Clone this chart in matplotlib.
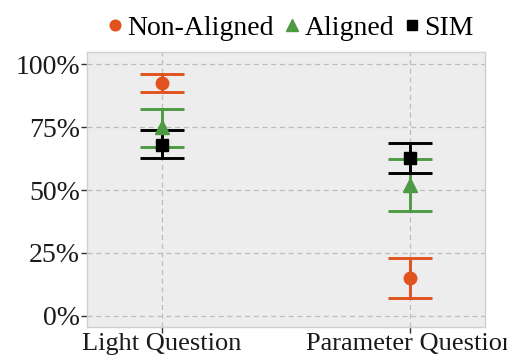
import matplotlib
matplotlib.use("Agg")
import matplotlib.pyplot as plt
from matplotlib.lines import Line2D

categories = ["Light Question", "Parameter Question"]
series = ["Non-Aligned", "Aligned", "SIM"]
mean = {"Non-Aligned": [0.926, 0.150], "Aligned": [0.750, 0.520], "SIM": [0.680, 0.628]}
lower = {"Non-Aligned": [0.888, 0.071], "Aligned": [0.670, 0.417], "SIM": [0.627, 0.569]}
upper = {"Non-Aligned": [0.960, 0.231], "Aligned": [0.820, 0.622], "SIM": [0.740, 0.686]}
yticks = [0, 0.25, 0.5, 0.75, 1.0]
ytick_labels = ["0%", "25%", "50%", "75%", "100%"]

colors = {"Non-Aligned": "#E0531E", "Aligned": "#4E9A44", "SIM": "#000000"}
markers = {"Non-Aligned": "o", "Aligned": "^", "SIM": "s"}
msizes = {"Non-Aligned": 9, "Aligned": 10, "SIM": 8.5}

plt.rcParams["font.family"] = ["Liberation Serif", "DejaVu Serif"]

fig = plt.figure(figsize=(5.07, 3.56), dpi=100)
ax = fig.add_axes([87/507, (356-327)/356, (485-87)/507, (327-52)/356])
ax.set_facecolor("#EDEDED")
for s in ax.spines.values():
    s.set_color("#D0D0D0")
    s.set_linewidth(1.0)

ax.set_axisbelow(True)
ax.grid(True, color="#BDBDBD", linestyle=(0, (4, 3)), linewidth=0.9)

x = list(range(1, len(categories) + 1))
for name in series:
    m = mean[name]
    lo = [mi - li for mi, li in zip(m, lower[name])]
    hi = [ui - mi for mi, ui in zip(m, upper[name])]
    ax.errorbar(x, m, yerr=[lo, hi], fmt=markers[name], color=colors[name],
                ecolor=colors[name], elinewidth=2.1, capsize=15.5, capthick=2.1,
                markersize=msizes[name], zorder=3)

ax.set_xlim(0.7, 2.3)
ax.set_ylim(-0.044, 1.048)
ax.set_xticks(x)
ax.set_xticklabels(categories)
ax.set_yticks(yticks)
ax.set_yticklabels(ytick_labels)
ax.tick_params(axis="both", labelsize=20, colors="#333333", labelcolor="#1a1a1a",
               length=4, width=1.0, pad=1)
ax.tick_params(axis="x", labelsize=19, pad=0)

handles = [Line2D([], [], marker=markers[n], color=colors[n], linestyle="none",
                  markersize=msizes[n] * 0.85) for n in series]
fig.legend(handles, series, loc="center", bbox_to_anchor=(288/507, 1 - 28/356),
           ncol=3, frameon=False, fontsize=20, handletextpad=0.0,
           columnspacing=0.2, handlelength=0.9, borderaxespad=0)

fig.savefig("out.png", dpi=100)
